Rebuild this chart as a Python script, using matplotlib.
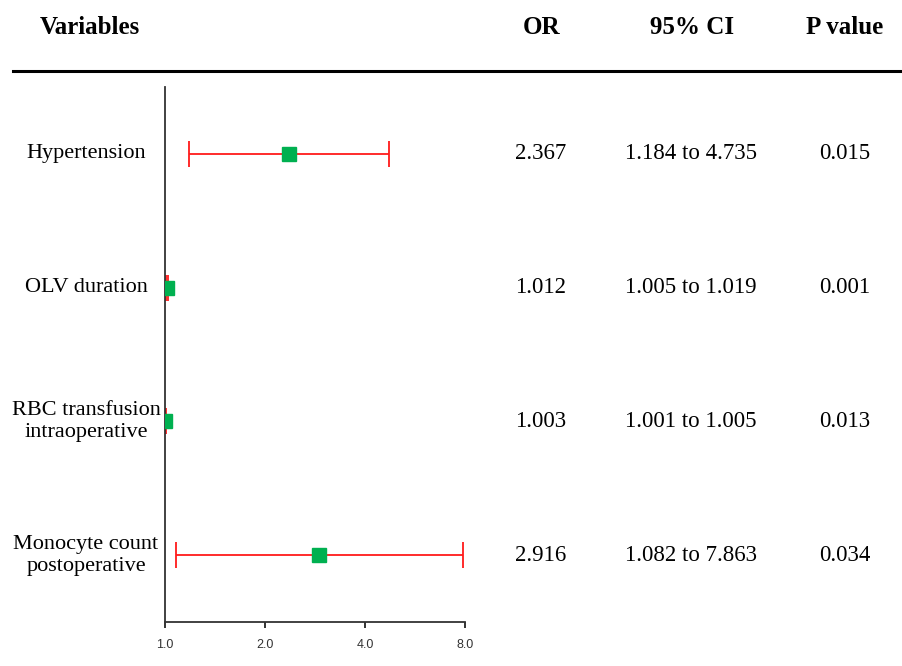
import matplotlib
matplotlib.use("Agg")
import matplotlib.pyplot as plt
from matplotlib.transforms import blended_transform_factory

# forest plot data
variables = ["Hypertension", "OLV duration", "RBC transfusion\nintraoperative",
             "Monocyte count\npostoperative"]
odds_ratio = [2.367, 1.012, 1.003, 2.916]
ci_low = [1.184, 1.005, 1.001, 1.082]
ci_high = [4.735, 1.019, 1.005, 7.863]
p_values = ["0.015", "0.001", "0.013", "0.034"]
x_ticks = [1.0, 2.0, 4.0, 8.0]
headers = ["Variables", "OR", "95% CI", "P value"]

W, H = 903, 666
fig = plt.figure(figsize=(W / 100, H / 100), dpi=100)
fig.patch.set_facecolor("white")

# axes in pixel terms
ax = fig.add_axes([165 / W, (H - 622) / H, 300 / W, 535 / H])
rows = list(range(len(variables)))

err_lo = [o - l for o, l in zip(odds_ratio, ci_low)]
err_hi = [h - o for o, h in zip(odds_ratio, ci_high)]
ax.errorbar(odds_ratio, rows, xerr=[err_lo, err_hi], fmt="none",
            ecolor="#ff1a1a", elinewidth=1.3, capsize=9.5, capthick=1.3, zorder=2)
ax.plot(odds_ratio, rows, "s", color="#00b050", markersize=10, zorder=3)

ax.set_xscale("log", base=2)
ax.set_xlim(1.0, 8.0)
ax.set_ylim(3.5, -0.5)
ax.set_xticks(x_ticks)
ax.set_xticklabels(["%.1f" % t for t in x_ticks], fontfamily="Liberation Sans",
                   fontsize=9, color="#333333")
ax.minorticks_off()
ax.set_yticks([])
ax.tick_params(axis="x", length=4, width=1.3, color="#222222", pad=8)
for s in ["top", "right"]:
    ax.spines[s].set_visible(False)
for s in ["left", "bottom"]:
    ax.spines[s].set_linewidth(1.3)
    ax.spines[s].set_color("#333333")
ax.patch.set_alpha(0)

# table text
serif = "Liberation Serif"
trans = blended_transform_factory(fig.transFigure, ax.transData)
for i, name in enumerate(variables):
    fig.text(86 / W, i, name, transform=trans, ha="center", va="center",
             family=serif, fontsize=16, linespacing=1.2)
    fig.text(541 / W, i, "%.3f" % odds_ratio[i], transform=trans, ha="center",
             va="center", family=serif, fontsize=16.5)
    fig.text(691 / W, i, "%.3f to %.3f" % (ci_low[i], ci_high[i]), transform=trans,
             ha="center", va="center", family=serif, fontsize=16.5)
    fig.text(845 / W, i, p_values[i], transform=trans, ha="center", va="center",
             family=serif, fontsize=16.5)

# header row
head_x = [40, 542, 692, 845]
for hx, h in zip(head_x, headers):
    fig.text(hx / W, 1 - 34 / H, h, ha="left" if h == "Variables" else "center",
             va="baseline", family=serif, fontweight="bold", fontsize=18)

fig.add_artist(plt.Line2D([13 / W, 1.0], [1 - 71 / H, 1 - 71 / H],
                          transform=fig.transFigure, color="black", linewidth=2.2))

fig.savefig("out.png", dpi=100)
